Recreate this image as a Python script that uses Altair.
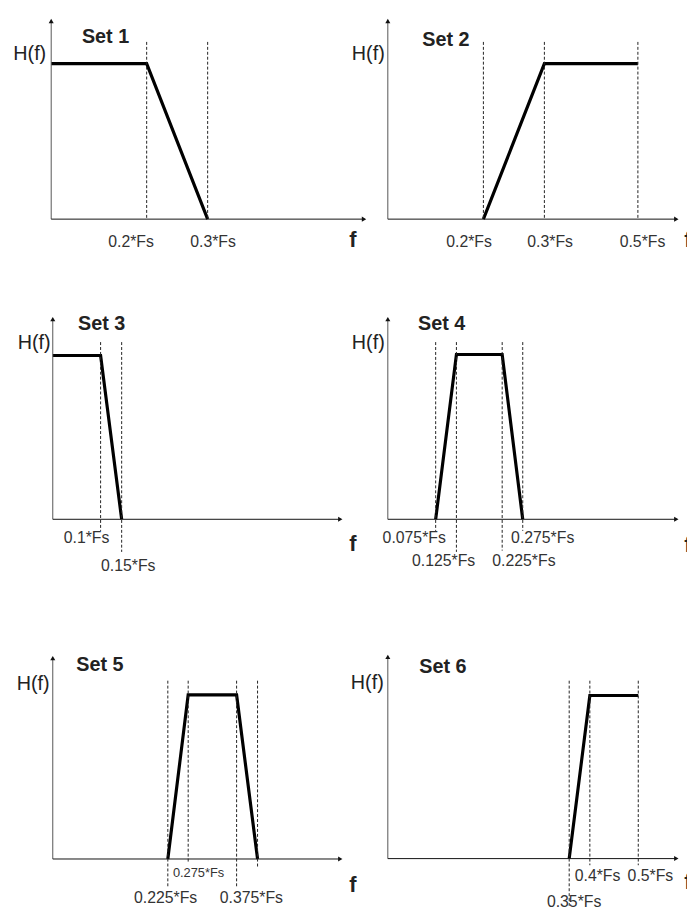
import altair as alt
import pandas as pd

# ---------------- data ----------------
SET_NAMES = ["Set 1", "Set 2", "Set 3", "Set 4", "Set 5", "Set 6"]
Y_TITLE = "H(f)"
X_TITLE = "f"

# filter responses: breakpoints as fraction of Fs, and gain (0 = stop, 1 = pass)
RESP_F = [
    [0.0, 0.2, 0.3],
    [0.2, 0.3, 0.5],
    [0.0, 0.1, 0.15],
    [0.075, 0.125, 0.225, 0.275],
    [0.225, 0.275, 0.375, 0.425],
    [0.35, 0.4, 0.5],
]
RESP_H = [
    [1, 1, 0],
    [0, 1, 1],
    [1, 1, 0],
    [0, 1, 1, 0],
    [0, 1, 1, 0],
    [0, 1, 1],
]
# marked frequencies (dashed guides) and their tick labels
MARK_F = [
    [0.2, 0.3],
    [0.2, 0.3, 0.5],
    [0.1, 0.15],
    [0.075, 0.125, 0.225, 0.275],
    [0.225, 0.275, 0.375, 0.425],
    [0.35, 0.4, 0.5],
]
MARK_LABELS = [
    ["0.2*Fs", "0.3*Fs"],
    ["0.2*Fs", "0.3*Fs", "0.5*Fs"],
    ["0.1*Fs", "0.15*Fs"],
    ["0.075*Fs", "0.125*Fs", "0.225*Fs", "0.275*Fs"],
    ["0.225*Fs", "0.275*Fs", "0.375*Fs", ""],
    ["0.35*Fs", "0.4*Fs", "0.5*Fs"],
]

# ---------------- layout (page pixels; the chart starts at page (8, 8)) ----------------
OX, OY = 8, 8
W, H = 687, 903

LAYOUT = [
    dict(xmap=[51.7, 148.3, 210.0], axis_y=216.3, pass_y=59.0,
         top=13.3, tip=370.7, guide_top=37.0, guide_bot=[216.3, 216.3],
         lab=[(132.5, 240), (215.5, 240)], lab_size=[16, 16],
         f_pos=(357, 238), title=(106.7, 32.2), h=(30.0, 49.5)),
    dict(xmap=[392.3, 489.0, 550.7, 645.3], axis_y=216.3, pass_y=59.0,
         top=13.3, tip=686.7, guide_top=37.0, guide_bot=[216.3, 216.3, 216.3],
         lab=[(474.5, 240), (556.5, 240), (650.0, 240)], lab_size=[16, 16, 16],
         f_pos=(696, 238), title=(451.0, 35.0), h=(372.5, 49.0)),
    dict(xmap=[53.3, 101.7, 123.0], axis_y=520.0, pass_y=354.3,
         top=315.0, tip=346.7, guide_top=340.7, guide_bot=[531.7, 553.0],
         lab=[(87.5, 539), (129.7, 567)], lab_size=[16, 16],
         f_pos=(357, 545), title=(102.7, 322.5), h=(34.5, 341.5)),
    dict(xmap=[392.3, 440.7, 461.7, 508.0, 528.8], axis_y=520.0, pass_y=353.3,
         top=315.0, tip=686.7, guide_top=340.7, guide_bot=[531.7, 553.0, 551.7, 531.7],
         lab=[(419.0, 539), (448.7, 562.5), (530.0, 562.5), (549.0, 539)],
         lab_size=[16, 16, 16, 16],
         f_pos=(696, 546), title=(446.7, 322.5), h=(372.5, 341.5)),
    dict(xmap=[53.3, 169.7, 190.3, 239.3, 260.5], axis_y=863.7, pass_y=697.7,
         top=658.0, tip=346.7, guide_top=683.3, guide_bot=[891.7, 868.0, 893.0, 873.3],
         lab=[(167.5, 903), (200.8, 878), (254.2, 903), (260.5, 878)],
         lab_size=[16, 13, 16, 13],
         f_pos=(357, 890), title=(101.0, 667.5), h=(33.5, 686.5)),
    dict(xmap=[392.3, 575.8, 596.7, 645.7], axis_y=863.3, pass_y=698.3,
         top=656.7, tip=686.7, guide_top=683.3, guide_bot=[911.0, 870.0, 870.0],
         lab=[(580.8, 907.5), (604.5, 881), (658.0, 881)], lab_size=[16, 16, 16],
         f_pos=(696, 887), title=(448.0, 669.5), h=(371.5, 685.5)),
]

FONT = "Arial, Liberation Sans, sans-serif"
ONE = pd.DataFrame({"k": [0]})


def px(v):
    return v - OX


def py(v):
    return v - OY


def panel(i):
    L = LAYOUT[i]
    dom = [0.0] + [m for m in MARK_F[i] if m != 0]
    xs = alt.Scale(domain=dom, range=[px(p) for p in L["xmap"]], nice=False, zero=False)
    ys = alt.Scale(domain=[0, 1], range=[py(L["axis_y"]), py(L["pass_y"])],
                   nice=False, zero=False)
    ax0 = px(L["xmap"][0])
    ay = py(L["axis_y"])
    layers = []
    # response (first, so the panel's scales are defined by real data)
    rd = pd.DataFrame({"f": RESP_F[i], "H": RESP_H[i]})
    layers.append(alt.Chart(rd).mark_line(color="black", strokeWidth=3.2,
                                          strokeJoin="miter", strokeCap="butt").encode(
        x=alt.X("f:Q", scale=xs, axis=None), y=alt.Y("H:Q", scale=ys, axis=None)))
    # y axis with arrow
    layers.append(alt.Chart(ONE).mark_rule(color="#555", strokeWidth=1).encode(
        x=alt.value(ax0), y=alt.value(py(L["top"]) + 2), y2=alt.value(ay)))
    layers.append(alt.Chart(ONE).mark_point(shape="triangle-up", filled=True, size=26,
                                            color="#111", opacity=1).encode(
        x=alt.value(ax0), y=alt.value(py(L["top"]) + 2.5)))
    # x axis with arrow
    layers.append(alt.Chart(ONE).mark_rule(color="#111", strokeWidth=1).encode(
        x=alt.value(ax0), x2=alt.value(px(L["tip"]) - 2), y=alt.value(ay)))
    layers.append(alt.Chart(ONE).mark_point(shape="triangle-right", filled=True, size=26,
                                            color="#111", opacity=1).encode(
        x=alt.value(px(L["tip"]) - 2.5), y=alt.value(ay)))
    # dashed guides
    for j, m in enumerate(MARK_F[i]):
        gd = pd.DataFrame({"f": [m]})
        layers.append(alt.Chart(gd).mark_rule(color="#222", strokeWidth=1,
                                              strokeDash=[3, 2]).encode(
            x=alt.X("f:Q", scale=xs, axis=None),
            y=alt.value(py(L["guide_top"])), y2=alt.value(py(L["guide_bot"][j]))))
    # tick labels
    offs = 1 if 0 not in MARK_F[i] else 0
    for j, m in enumerate(MARK_F[i]):
        txt = MARK_LABELS[i][j]
        if not txt:
            continue
        lx, ly = L["lab"][j]
        mx = L["xmap"][j + offs]
        td = pd.DataFrame({"f": [m], "t": [txt]})
        layers.append(alt.Chart(td).mark_text(
            font=FONT, fontSize=L["lab_size"][j], color="#333", align="center",
            baseline="middle", dx=lx - mx).encode(
            x=alt.X("f:Q", scale=xs, axis=None), y=alt.value(py(ly)), text="t:N"))
    # titles
    layers.append(alt.Chart(ONE).mark_text(
        font=FONT, fontSize=20, fontWeight="bold", color="#222", align="center",
        baseline="middle").encode(
        x=alt.value(px(L["title"][0])), y=alt.value(py(L["title"][1])),
        text=alt.value(SET_NAMES[i])))
    layers.append(alt.Chart(ONE).mark_text(
        font=FONT, fontSize=20, color="#222", align="center", baseline="middle").encode(
        x=alt.value(px(L["h"][0])), y=alt.value(py(L["h"][1])),
        text=alt.value(Y_TITLE)))
    layers.append(alt.Chart(ONE).mark_text(
        font=FONT, fontSize=22, fontWeight="bold", color="#222", align="center",
        baseline="middle").encode(
        x=alt.value(px(L["f_pos"][0])), y=alt.value(py(L["f_pos"][1])),
        text=alt.value(X_TITLE)))
    return alt.layer(*layers)


chart = alt.layer(*[panel(i) for i in range(6)]).resolve_scale(
    x="independent", y="independent"
).properties(
    width=W, height=H, padding=0, background="white",
    autosize=alt.AutoSizeParams(type="none"),
).configure_view(stroke=None)

chart.save("out.html", embed_options={"renderer": "svg", "actions": False})
